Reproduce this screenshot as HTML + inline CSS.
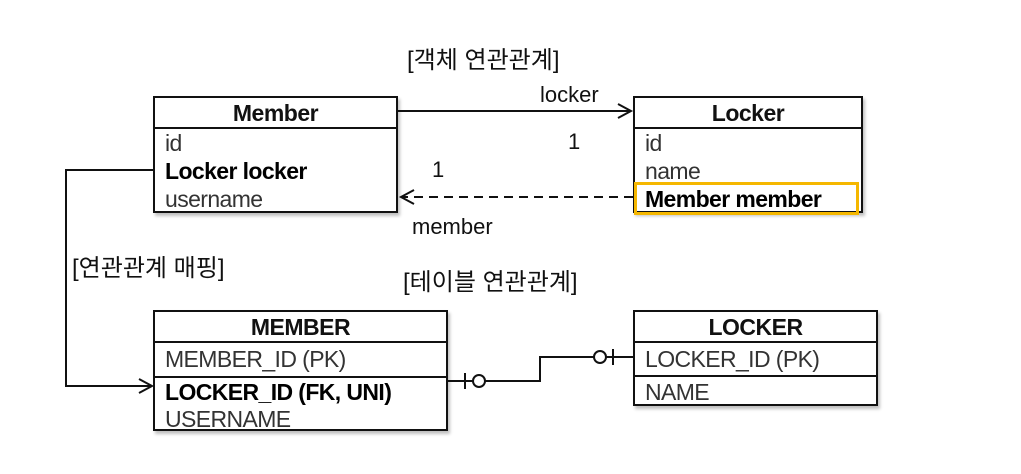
<!DOCTYPE html><html><head><meta charset="utf-8"><style>
body{margin:0;background:#fff;width:1021px;height:474px;position:relative;overflow:hidden;font-family:"Liberation Sans","Noto Sans CJK KR",sans-serif;color:#111}
.t{position:absolute;white-space:nowrap;line-height:1}
.box{position:absolute;border:2px solid #111;box-sizing:border-box;background:#fff;box-shadow:2px 3px 3px rgba(0,0,0,.25)}
.h{text-align:center;border-bottom:2px solid #111;font-size:23px;height:31px;line-height:30px;box-sizing:border-box;font-weight:bold;letter-spacing:-0.5px}
.r{font-size:23px;padding-left:10px;line-height:28px;color:#333;letter-spacing:-0.6px}
.b{font-weight:bold;color:#000}
</style></head><body>
<div class="t" style="left:407px;top:49px;font-size:24px">[객체 연관관계]</div>
<div class="t" style="left:540px;top:84px;font-size:22px">locker</div>
<div class="t" style="left:568px;top:131px;font-size:22px">1</div>
<div class="t" style="left:432px;top:159px;font-size:22px">1</div>
<div class="t" style="left:412px;top:216px;font-size:22px">member</div>
<div class="t" style="left:72px;top:257px;font-size:24px">[연관관계 매핑]</div>
<div class="t" style="left:403px;top:271px;font-size:24px">[테이블 연관관계]</div>

<div class="box" style="left:153px;top:96px;width:245px;height:117px">
<div class="h">Member</div>
<div class="r">id</div><div class="r b">Locker locker</div><div class="r">username</div></div>
<div class="box" style="left:633px;top:96px;width:230px;height:117px">
<div class="h">Locker</div>
<div class="r">id</div><div class="r">name</div><div class="r b">Member member</div></div>
<div style="position:absolute;left:634px;top:182px;width:219px;height:27px;border:3px solid #f5b700;box-sizing:content-box"></div>

<div class="box" style="left:153px;top:310px;width:295px;height:121px">
<div class="h">MEMBER</div>
<div class="r" style="height:33px;line-height:33px;border-bottom:2px solid #111">MEMBER_ID (PK)</div>
<div class="r b" style="line-height:27px;margin-top:1px">LOCKER_ID (FK, UNI)</div><div class="r" style="line-height:26px">USERNAME</div></div>
<div class="box" style="left:633px;top:310px;width:245px;height:96px">
<div class="h">LOCKER</div>
<div class="r" style="height:32px;line-height:32px;border-bottom:2px solid #111">LOCKER_ID (PK)</div>
<div class="r" style="line-height:30px">NAME</div></div>

<svg style="position:absolute;left:0;top:0" width="1021" height="474" fill="none" stroke="#111" stroke-width="2">
<path d="M398 111H630M618 104L631 111L618 118"/>
<path d="M633 197H402" stroke-dasharray="9 6"/><path d="M414 190L401 197L414 204"/>
<path d="M153 170H66V386H151M139 379L152 386L139 393"/>
<path d="M448 381H540V357H633"/>
<path d="M465 373V389"/><circle cx="479" cy="381" r="6" fill="#fff"/>
<circle cx="600" cy="357" r="6" fill="#fff"/><path d="M613 349V365"/>
</svg>
</body></html>
